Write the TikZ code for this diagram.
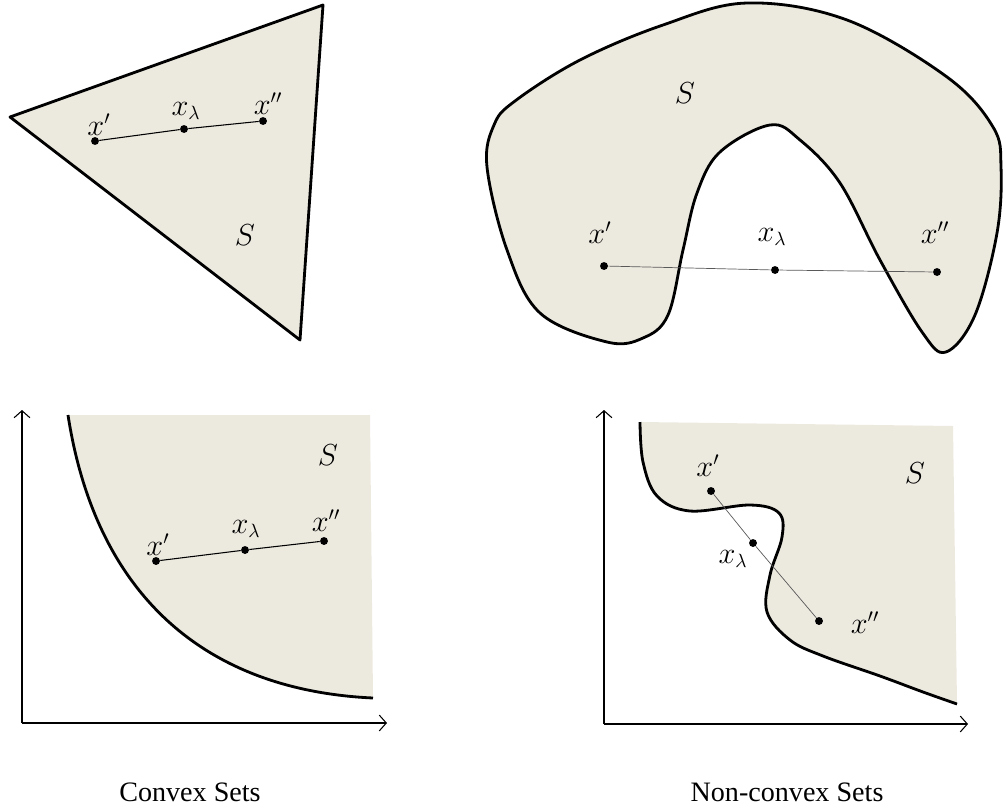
\documentclass[tikz,border=0pt]{standalone}
\usepackage{fontspec}
\setmainfont{Liberation Serif}
\usetikzlibrary{arrows.meta}
\definecolor{setfill}{RGB}{236,233,223}

\begin{document}
\begin{tikzpicture}[x=0.02cm,y=-0.02cm,
	rim/.style={line width=1.6pt, line join=round},
	region/.style={fill=setfill},
	dot/.style={circle, fill=black, inner sep=0pt, minimum size=4.5pt},
	chord/.style={line width=0.6pt},
	faint/.style={line width=0.4pt, black!65},
	axis/.style={line width=0.6pt, -{Straight Barb[length=4pt,width=9pt]}},
	lbl/.style={font=\fontsize{16}{19}\selectfont},
	setname/.style={font=\fontsize{16}{19}\selectfont}]
	\useasboundingbox (0,0) rectangle (1006,808);
	% convex: triangle
	\draw[rim, region] (10,117) -- (323,5) -- (300,340) -- cycle;
	\node[dot] (ta) at (95,141) {};
	\node[dot] (tm) at (184,129) {};
	\node[dot] (tb) at (263,121) {};
	\draw[chord] (ta) -- (tm) -- (tb);
	\node[lbl] (tal) at (99,125) {$x'$};
	\node[lbl] (tml) at (186,111) {$x_\lambda$};
	\node[lbl] (tbl) at (268,104) {$x''$};
	\node[lbl] (ts) at (245,235) {$S$};
	% non-convex: blob
	\draw[rim, region] plot[smooth cycle, tension=0.6] coordinates {
		(487,167) (494,125) (515,101) (580,60) (663,25) (747,3) (847,20)
		(947,77) (993,127) (1001,167) (997,233) (975,315) (946,352)
		(922,332) (880,260) (840,183) (800,140) (770,125) (720,152)
		(697,193) (683,250) (668,315) (643,338) (607,342) (540,313)
		(507,250)};
	\node[dot] (ba) at (604,266) {};
	\node[dot] (bm) at (775,270) {};
	\node[dot] (bb) at (937,272) {};
	\draw[faint] (ba) -- (bm) -- (bb);
	\node[lbl] (bal) at (600,233) {$x'$};
	\node[lbl] (bml) at (772,237) {$x_\lambda$};
	\node[lbl] (bbl) at (935,233) {$x''$};
	\node[lbl] (bs) at (685,93) {$S$};
	% convex: region above a curve
	\fill[region] (68,415) .. controls (95,590) and (200,690) .. (373,698)
		-- (370,415) -- cycle;
	\draw[rim] (68,415) .. controls (95,590) and (200,690) .. (373,698);
	\coordinate (lo) at (22,723);
	\coordinate (ly) at (22,410);
	\coordinate (lx) at (387,723);
	\draw[axis] (lo) -- (ly);
	\draw[axis] (lo) -- (lx);
	\node[dot] (ca) at (156,561) {};
	\node[dot] (cm) at (245,550) {};
	\node[dot] (cb) at (324,541) {};
	\draw[chord] (ca) -- (cm) -- (cb);
	\node[lbl] (cal) at (158,545) {$x'$};
	\node[lbl] (cml) at (246,529) {$x_\lambda$};
	\node[lbl] (cbl) at (326,521) {$x''$};
	\node[lbl] (cs) at (328,455) {$S$};
	% non-convex: region above a wavy curve
	\fill[region] plot[smooth, tension=0.6] coordinates {
		(640,422) (643,462) (657,496) (690,511) (750,505) (779,513) (782,537)
		(770,575) (767,612) (790,640) (823,656) (880,676) (923,692) (957,704)}
		-- (953,426) -- cycle;
	\draw[rim] plot[smooth, tension=0.6] coordinates {
		(640,422) (643,462) (657,496) (690,511) (750,505) (779,513) (782,537)
		(770,575) (767,612) (790,640) (823,656) (880,676) (923,692) (957,704)};
	\coordinate (ro) at (604,724);
	\coordinate (ry) at (604,410);
	\coordinate (rx) at (968,724);
	\draw[axis] (ro) -- (ry);
	\draw[axis] (ro) -- (rx);
	\node[dot] (da) at (711,491) {};
	\node[dot] (dm) at (753,543) {};
	\node[dot] (db) at (819,621) {};
	\draw[faint] (da) -- (dm) -- (db);
	\node[lbl] (dal) at (708,466) {$x'$};
	\node[lbl] (dml) at (733,559) {$x_\lambda$};
	\node[lbl] (dbl) at (865,623) {$x''$};
	\node[lbl] (ds) at (915,473) {$S$};
	% captions
	\node[setname] (cvx) at (190,792) {Convex Sets};
	\node[setname] (ncvx) at (787,792) {Non-convex Sets};
\end{tikzpicture}
\end{document}
